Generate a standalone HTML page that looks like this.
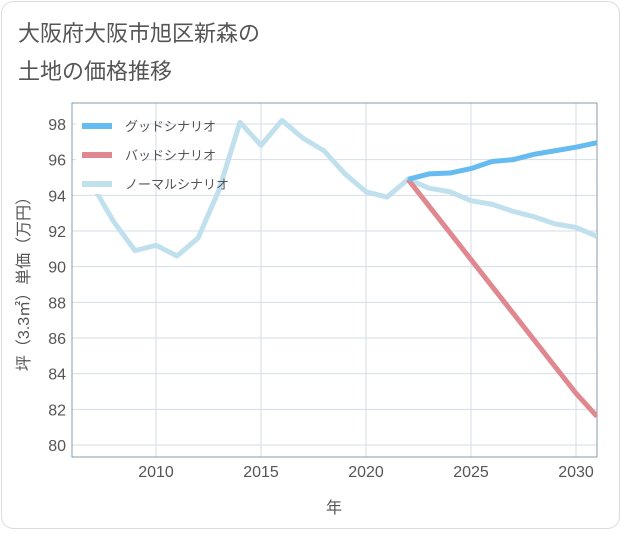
<!DOCTYPE html>
<html><head><meta charset="utf-8"><style>
body{margin:0;background:#fff;font-family:"Liberation Sans","Noto Sans CJK JP",sans-serif}
#wrap{position:relative;width:621px;height:530px}
</style></head><body>
<div id="wrap">
<svg width="621" height="530">
<rect x="1.5" y="1.5" width="618" height="527" rx="12" fill="#fff" stroke="#ddd"/>
<text x="18" y="41" font-size="22" fill="#555">大阪府大阪市旭区新森の</text>
<text x="18" y="79" font-size="22" fill="#555">土地の価格推移</text>
<g id="grid"></g>
<rect x="72" y="103" width="525" height="354" fill="none" stroke="#8899aa" stroke-width="1"/>
<g id="series"></g>
<g id="legend"></g>
<text x="334" y="513" font-size="16" fill="#555" text-anchor="middle">年</text>
<text transform="translate(29,280) rotate(-90)" font-size="16" fill="#555" text-anchor="middle">坪（3.3㎡）単価（万円）</text>
</svg></div>
<script>
const years=[2007,2008,2009,2010,2011,2012,2013,2014,2015,2016,2017,2018,2019,2020,2021,2022,2023,2024,2025,2026,2027,2028,2029,2030,2031];
const normalValues=[94.5,92.5,90.9,91.2,90.6,91.6,94.3,98.1,96.8,98.2,97.2,96.5,95.2,94.2,93.9,94.9,94.4,94.2,93.7,93.5,93.1,92.8,92.4,92.2,91.7];
const goodYears=[2022,2023,2024,2025,2026,2027,2028,2029,2030,2031];
const goodValues=[94.9,95.2,95.25,95.5,95.9,96.0,96.3,96.5,96.7,96.95];
const badValues=[94.9,93.4,91.9,90.4,88.9,87.4,85.9,84.4,82.9,81.6];
const xTicks=[2010,2015,2020,2025,2030];
const yTicks=[80,82,84,86,88,90,92,94,96,98];
const NS="http://www.w3.org/2000/svg";
const X=v=>72+(v-2006)*21;
const Y=v=>445-(v-80)*(321/18);
function mk(t,a,p){const e=document.createElementNS(NS,t);for(const k in a)e.setAttribute(k,a[k]);p.appendChild(e);return e;}
const g=document.getElementById('grid');
yTicks.forEach(v=>{
 const l=mk('line',{x1:72,x2:597,y1:Y(v),y2:Y(v),stroke:'#d5dde6','stroke-width':1},g);
 
 
 const t=mk('text',{x:66,y:Y(v)+6,'font-size':16,fill:'#555','text-anchor':'end'},g);t.textContent=v;
 
 
});
xTicks.forEach(v=>{
 const l=mk('line',{x1:X(v),x2:X(v),y1:103,y2:457,stroke:'#d5dde6','stroke-width':1},g);
 
 
 const t=mk('text',{x:X(v),y:477,'font-size':16,fill:'#555','text-anchor':'middle'},g);t.textContent=v;
 
 
});
const s=document.getElementById('series');
function line(xs,ys,c,name){
 const p=mk('polyline',{points:xs.map((x,i)=>X(x)+','+Y(ys[i])).join(' '),fill:'none',stroke:c,'stroke-width':5,'stroke-linejoin':'round'},s);
 
 
}
const cp=mk('clipPath',{id:'cp'},s);mk('rect',{x:72,y:103,width:525,height:354},cp);
s.setAttribute('clip-path','url(#cp)');
line(years,normalValues,'#c0e0ee','normal-scenario-line');
line(goodYears,badValues,'#e0888f','bad-scenario-line');
line(goodYears,goodValues,'#66bbf0','good-scenario-line');
const lg=document.getElementById('legend');
mk('rect',{x:76,y:108,width:70,height:86,fill:'#fff'},lg);
[['グッドシナリオ','#66bbf0'],['バッドシナリオ','#e0888f'],['ノーマルシナリオ','#c0e0ee']].forEach((d,i)=>{
 const y=126+i*29;
 const l=mk('line',{x1:82,x2:112,y1:y,y2:y,stroke:d[1],'stroke-width':6},lg);
 
 
 const t=mk('text',{x:125,y:y+5,'font-size':13,fill:'#555'},lg);t.textContent=d[0];
 
 
});
</script>
</body></html>
